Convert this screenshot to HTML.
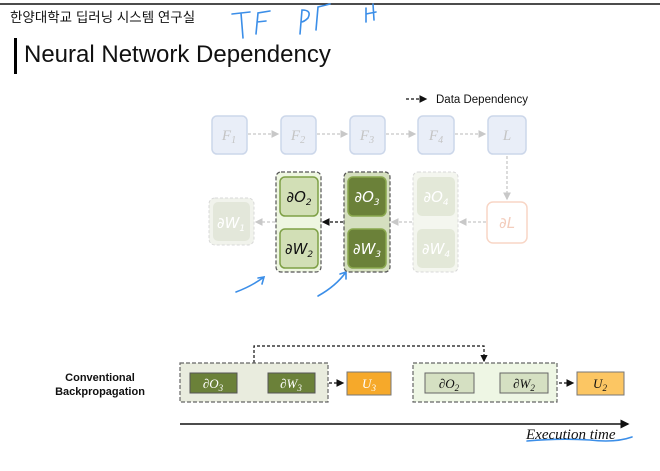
<!DOCTYPE html>
<html><head><meta charset="utf-8"><style>
html,body{margin:0;padding:0;background:#fff;}
svg{display:block;}
</style></head><body>
<svg width="660" height="471" viewBox="0 0 660 471" xmlns="http://www.w3.org/2000/svg" font-family="Liberation Sans, sans-serif">
<defs>
<marker id="ab" markerWidth="6" markerHeight="6" refX="5" refY="3" orient="auto"><path d="M0,0 L6,3 L0,6 z" fill="#111"/></marker>
<marker id="ag" markerWidth="6" markerHeight="6" refX="5" refY="3" orient="auto"><path d="M0,0 L6,3 L0,6 z" fill="#c8c8c8"/></marker>
</defs>
<line x1="0" y1="4" x2="660" y2="4" stroke="#111" stroke-width="1.5"/>
<text x="10" y="22" font-size="13.5" font-family="Liberation Sans, Noto Sans CJK KR, sans-serif" fill="#111">한양대학교 딥러닝 시스템 연구실</text>
<rect x="14" y="38" width="3" height="36" fill="#000"/>
<text x="24" y="62" font-size="24" fill="#111">Neural Network Dependency</text>
<g stroke="#3b8ee8" stroke-width="1.6" fill="none" stroke-linecap="round">
<path d="M232 14 L250 12 M241 13 L243 38"/>
<path d="M256 34 L258 13 L270 11 M257 22 L266 21"/>
<path d="M300 34 L302 10 Q312 10 308 18 Q304 22 301 22"/>
<path d="M316 30 L318 7 L330 4"/>
<path d="M366 22 L366 8 M366 14 L376 12 M373 4 L374 20"/>
<path d="M236 292 Q252 286 264 277 M258 278 L264 277 L262 284"/>
<path d="M318 296 Q336 286 346 272 M340 274 L346 272 L346 279"/>
<path d="M527 441 Q560 438 590 440 Q615 443 632 437"/>
</g>
<line x1="406" y1="99" x2="426" y2="99" stroke="#111" stroke-width="1.3" stroke-dasharray="3,2" marker-end="url(#ab)"/>
<text x="436" y="103" font-size="11.5" fill="#111">Data Dependency</text>
<g fill="#e9eef8" stroke="#ccd7ea" stroke-width="1.5">
<rect x="212" y="116" width="35" height="38" rx="5"/>
<rect x="281" y="116" width="35" height="38" rx="5"/>
<rect x="350" y="116" width="35" height="38" rx="5"/>
<rect x="418" y="116" width="36" height="38" rx="5"/>
<rect x="488" y="116" width="38" height="38" rx="5"/>
</g>
<g font-family="Liberation Serif, serif" font-style="italic" font-size="15" fill="#c4c4c4" text-anchor="middle">
<text x="229" y="140">F<tspan font-size="10" dy="3">1</tspan></text>
<text x="298" y="140">F<tspan font-size="10" dy="3">2</tspan></text>
<text x="367" y="140">F<tspan font-size="10" dy="3">3</tspan></text>
<text x="436" y="140">F<tspan font-size="10" dy="3">4</tspan></text>
<text x="507" y="140">L</text>
</g>
<g stroke="#c8c8c8" stroke-width="1.3" stroke-dasharray="3,2" fill="none">
<line x1="248" y1="134" x2="278" y2="134" marker-end="url(#ag)"/>
<line x1="317" y1="134" x2="347" y2="134" marker-end="url(#ag)"/>
<line x1="386" y1="134" x2="415" y2="134" marker-end="url(#ag)"/>
<line x1="455" y1="134" x2="485" y2="134" marker-end="url(#ag)"/>
<line x1="507" y1="156" x2="507" y2="199" marker-end="url(#ag)"/>
<line x1="486" y1="222" x2="460" y2="222" marker-end="url(#ag)"/>
<line x1="412" y1="222" x2="392" y2="222" marker-end="url(#ag)"/>
<line x1="275" y1="222" x2="256" y2="222" marker-end="url(#ag)"/>
</g>
<line x1="343" y1="222" x2="323" y2="222" stroke="#111" stroke-width="1.3" stroke-dasharray="3,2" marker-end="url(#ab)"/>
<rect x="209" y="198" width="45" height="47" rx="6" fill="#f1f3ec" stroke="#d8d8d8" stroke-dasharray="3,2"/>
<rect x="213" y="202" width="37" height="39" rx="5" fill="#e3e7da"/>
<rect x="276" y="172" width="45" height="100" rx="5" fill="#eef6e1" stroke="#555" stroke-width="1.2" stroke-dasharray="4,2"/>
<rect x="280" y="177" width="38" height="39" rx="5" fill="#d2dfb6" stroke="#7ea046" stroke-width="1.5"/>
<rect x="280" y="229" width="38" height="39" rx="5" fill="#d2dfb6" stroke="#7ea046" stroke-width="1.5"/>
<rect x="344" y="172" width="46" height="100" rx="5" fill="#d5dfbf" stroke="#555" stroke-width="1.2" stroke-dasharray="4,2"/>
<rect x="348" y="177" width="38" height="39" rx="5" fill="#6b8139" stroke="#8aa84e" stroke-width="1.5"/>
<rect x="348" y="229" width="38" height="39" rx="5" fill="#6b8139" stroke="#8aa84e" stroke-width="1.5"/>
<rect x="413" y="172" width="45" height="100" rx="5" fill="#f4f6ef" stroke="#d8d8d8" stroke-dasharray="3,2"/>
<rect x="417" y="177" width="38" height="39" rx="5" fill="#e3e8d8"/>
<rect x="417" y="229" width="38" height="39" rx="5" fill="#e3e8d8"/>
<rect x="487" y="202" width="40" height="41" rx="6" fill="#fff" stroke="#f8d6c6" stroke-width="1.5"/>
<g font-family="DejaVu Sans, sans-serif" font-style="italic" font-size="15" text-anchor="middle">
<text x="231" y="228" fill="#fff">∂W<tspan font-size="9" dy="3">1</tspan></text>
<text x="299" y="202" fill="#111">∂O<tspan font-size="9" dy="3">2</tspan></text>
<text x="299" y="254" fill="#111">∂W<tspan font-size="9" dy="3">2</tspan></text>
<text x="367" y="202" fill="#fff">∂O<tspan font-size="9" dy="3">3</tspan></text>
<text x="367" y="254" fill="#fff">∂W<tspan font-size="9" dy="3">3</tspan></text>
<text x="436" y="202" fill="#fff">∂O<tspan font-size="9" dy="3">4</tspan></text>
<text x="436" y="254" fill="#fff">∂W<tspan font-size="9" dy="3">4</tspan></text>
<text x="507" y="228" fill="#f3cdbd">∂L</text>
</g>
<text x="100" y="381" font-size="11" font-weight="bold" text-anchor="middle" fill="#111">Conventional</text>
<text x="100" y="395" font-size="11" font-weight="bold" text-anchor="middle" fill="#111">Backpropagation</text>
<polyline points="254,363 254,346 484,346 484,361" fill="none" stroke="#111" stroke-width="1.2" stroke-dasharray="3,2" marker-end="url(#ab)"/>
<rect x="180" y="363" width="148" height="39" fill="#e9ecde" stroke="#666" stroke-width="1.2" stroke-dasharray="4,2"/>
<rect x="190" y="373" width="47" height="20" fill="#6b8139" stroke="#555"/>
<rect x="268" y="373" width="47" height="20" fill="#6b8139" stroke="#555"/>
<line x1="329" y1="383" x2="343" y2="383" stroke="#111" stroke-width="1.3" stroke-dasharray="3,2" marker-end="url(#ab)"/>
<rect x="347" y="372" width="44" height="23" fill="#f6a92a" stroke="#777"/>
<rect x="413" y="363" width="144" height="39" fill="#eef6e4" stroke="#666" stroke-width="1.2" stroke-dasharray="4,2"/>
<rect x="425" y="373" width="49" height="20" fill="#d5e0c2" stroke="#666"/>
<rect x="500" y="373" width="48" height="20" fill="#d5e0c2" stroke="#666"/>
<line x1="559" y1="383" x2="573" y2="383" stroke="#111" stroke-width="1.3" stroke-dasharray="3,2" marker-end="url(#ab)"/>
<rect x="577" y="372" width="47" height="23" fill="#fcc663" stroke="#777"/>
<g font-family="Liberation Serif, serif" font-style="italic" font-size="13" text-anchor="middle">
<text x="213" y="388" fill="#fff">∂O<tspan font-size="9" dy="3">3</tspan></text>
<text x="291" y="388" fill="#fff">∂W<tspan font-size="9" dy="3">3</tspan></text>
<text x="369" y="388" fill="#fff">U<tspan font-size="9" dy="3">3</tspan></text>
<text x="449" y="388" fill="#111">∂O<tspan font-size="9" dy="3">2</tspan></text>
<text x="524" y="388" fill="#111">∂W<tspan font-size="9" dy="3">2</tspan></text>
<text x="600" y="388" fill="#111">U<tspan font-size="9" dy="3">2</tspan></text>
</g>
<line x1="180" y1="424" x2="628" y2="424" stroke="#111" stroke-width="1.5" marker-end="url(#ab)"/>
<text x="526" y="439" font-family="Liberation Serif, serif" font-style="italic" font-size="15" fill="#111">Execution time</text>
</svg>
</body></html>
